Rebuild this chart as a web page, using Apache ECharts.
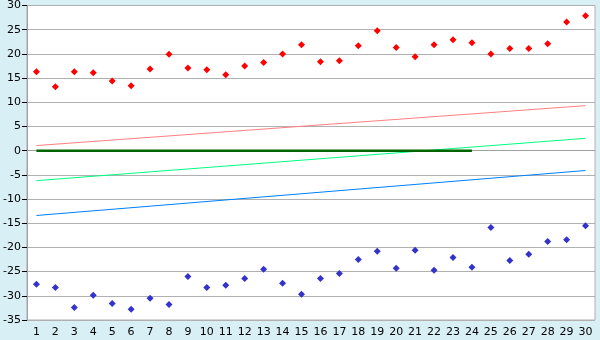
<!DOCTYPE html>
<html><head><meta charset="utf-8">
<script src="https://cdn.jsdelivr.net/npm/echarts@6/dist/echarts.min.js"></script>
<style>html,body{margin:0;padding:0;background:#d9eff6;}#c{width:600px;height:340px;}</style>
</head><body><div id="c"></div>
<script>
var categories = ['1','2','3','4','5','6','7','8','9','10','11','12','13','14','15','16','17','18','19','20','21','22','23','24','25','26','27','28','29','30'];
var redPoints = [16.3,13.2,16.3,16.1,14.4,13.4,16.9,19.9,17.1,16.7,15.7,17.5,18.2,20.0,21.9,18.4,18.6,21.7,24.8,21.3,19.4,21.9,22.9,22.3,20.0,21.1,21.1,22.1,26.6,27.9];
var bluePoints = [-27.6,-28.3,-32.4,-29.9,-31.6,-32.8,-30.5,-31.8,-26.0,-28.3,-27.8,-26.4,-24.5,-27.4,-29.7,-26.4,-25.4,-22.5,-20.8,-24.3,-20.6,-24.7,-22.1,-24.1,-15.9,-22.7,-21.4,-18.8,-18.4,-15.5];
// trend lines: start and end values (category 1 and 30)
var redTrend = [1.05, 9.3];
var greenTrend = [-6.2, 2.55];
var blueTrend = [-13.4, -4.1];
// zero line from category 1 to 24
var zeroLine = {from: '1', to: '24', value: 0};
var yTicks = {min: -35, max: 30, interval: 5};

function endpoints(pair){
  var arr = categories.map(function(){return null;});
  arr[0] = pair[0]; arr[arr.length-1] = pair[1];
  return arr;
}
function zeroData(){
  var i0 = categories.indexOf(zeroLine.from), i1 = categories.indexOf(zeroLine.to);
  return categories.map(function(c,i){return (i===i0||i===i1)?zeroLine.value:null;});
}
var chart = echarts.init(document.getElementById('c'), null, {renderer:'canvas'});
var font = 'DejaVu Sans';
chart.setOption({
  animation:false,
  backgroundColor:'#d9eff6',
  grid:{left:26,top:5,right:5,bottom:20,show:true,backgroundColor:'#ffffff',borderColor:'#b0b0b0',borderWidth:1},
  xAxis:{type:'category',data:categories,boundaryGap:true,
    axisLine:{lineStyle:{color:'#a0a0a0',width:1}},
    axisTick:{alignWithLabel:true,length:5,lineStyle:{color:'#000'}},
    axisLabel:{color:'#000',fontFamily:font,fontSize:11,margin:7,interval:0},
    splitLine:{show:false}},
  yAxis:{type:'value',min:yTicks.min,max:yTicks.max,interval:yTicks.interval,
    axisLine:{show:true,lineStyle:{color:'#a0a0a0'}},
    axisTick:{show:true,length:5,lineStyle:{color:'#000'}},
    axisLabel:{color:'#000',fontFamily:font,fontSize:11,margin:6},
    splitLine:{lineStyle:{color:'#b0b0b0',width:1}}},
  series:[
    {type:'line',data:endpoints(redTrend),connectNulls:true,showSymbol:false,symbol:'none',lineStyle:{color:'#ff8080',width:1},z:2},
    {type:'line',data:endpoints(greenTrend),connectNulls:true,showSymbol:false,symbol:'none',lineStyle:{color:'#00ff80',width:1},z:2},
    {type:'line',data:endpoints(blueTrend),connectNulls:true,showSymbol:false,symbol:'none',lineStyle:{color:'#0080ff',width:1},z:2},
    {type:'line',data:zeroData(),connectNulls:true,showSymbol:false,symbol:'none',lineStyle:{color:'#006400',width:2.5},z:3},
    {type:'scatter',data:redPoints,symbol:'diamond',symbolSize:7,itemStyle:{color:'#ff0000',opacity:1},z:4},
    {type:'scatter',data:bluePoints,symbol:'diamond',symbolSize:7,itemStyle:{color:'#3333cc',opacity:1},z:4}
  ]
});
</script></body></html>
